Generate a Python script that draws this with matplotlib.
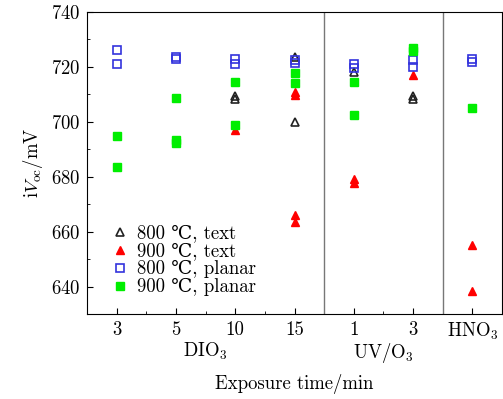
import matplotlib
matplotlib.use("Agg")
import matplotlib.pyplot as plt

plt.rcParams['font.family'] = ['cmr10', 'DejaVu Serif']
plt.rcParams['mathtext.fontset'] = 'cm'
plt.rcParams['axes.formatter.use_mathtext'] = True
plt.rcParams['font.size'] = 13.5

# x positions: 1..4 = DIO3 3,5,10,15 min; 5..6 = UV/O3 1,3 min; 7 = HNO3
tick_labels = ['3', '5', '10', '15', '1', '3', 'HNO$_3$']

t800_x = [3, 3, 4, 4, 5, 6, 6]
t800_y = [709.5, 708.2, 723.5, 699.8, 718.0, 709.3, 708.3]

t900_x = [3, 4, 4, 4, 4, 5, 5, 6, 7, 7]
t900_y = [697.0, 711.0, 709.8, 666.0, 663.5, 679.3, 677.8, 717.2, 655.3, 638.2]

p800_x = [1, 1, 2, 2, 3, 3, 4, 4, 5, 5, 6, 6, 7, 7]
p800_y = [726.0, 721.0, 723.6, 723.0, 722.8, 721.2, 722.5, 721.3, 721.0, 719.6, 722.5, 719.8, 723.0, 721.8]

p900_x = [1, 1, 2, 2, 2, 3, 3, 4, 4, 5, 5, 6, 6, 7]
p900_y = [694.7, 683.7, 708.5, 693.2, 692.3, 714.5, 699.0, 717.8, 714.3, 714.5, 702.5, 726.8, 725.8, 705.0]

fig = plt.figure(figsize=(5.03, 3.99), dpi=100)
ax = fig.add_axes([0.173, 0.213, 0.825, 0.757])

ax.plot(t800_x, t800_y, '^', mfc='none', mec='#222222', mew=1.2, ms=6, label='800 ℃, text')
ax.plot(t900_x, t900_y, '^', color='#ff0000', ms=6, label='900 ℃, text')
ax.plot(p800_x, p800_y, 's', mfc='none', mec='#3333dd', mew=1.2, ms=5.5, label='800 ℃, planar')
ax.plot(p900_x, p900_y, 's', color='#00ee00', ms=5.5, label='900 ℃, planar')

ax.axvline(4.5, color='#777777', lw=1)
ax.axvline(6.5, color='#777777', lw=1)

ax.set_xlim(0.5, 7.5)
ax.set_ylim(630, 740)
ax.set_xticks(range(1, 8))
ax.set_xticklabels(tick_labels)
ax.set_xticks([1.5, 2.5, 3.5, 4.5, 5.5, 6.5], minor=True)
ax.set_yticks(range(640, 741, 20))
ax.set_yticks(range(630, 741, 10), minor=True)
ax.tick_params(direction='in', length=4, pad=5)
ax.tick_params(which='minor', direction='in', length=2)

ax.text(2.5, -0.09, 'DIO$_3$', transform=ax.get_xaxis_transform(), ha='center', va='top')
ax.text(5.5, -0.09, 'UV/O$_3$', transform=ax.get_xaxis_transform(), ha='center', va='top')
ax.set_xlabel('Exposure time/min', labelpad=23)
ax.set_ylabel('i$V_{\\mathrm{oc}}$/mV')

ax.legend(loc='lower left', frameon=False, handletextpad=0.3, labelspacing=0.0,
          borderaxespad=0.3, bbox_to_anchor=(0.02, 0.015), handlelength=1.2)

fig.savefig('out.png', dpi=100)
